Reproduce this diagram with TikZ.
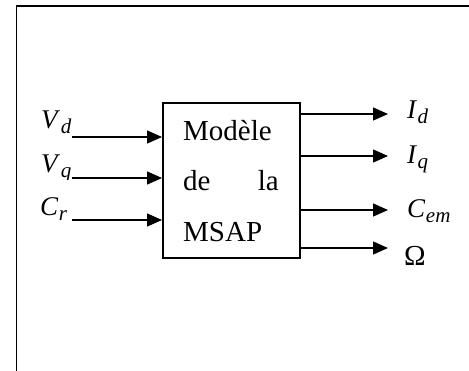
\documentclass[tikz,border=0pt]{standalone}
\usepackage{fontspec}
\setmainfont{Liberation Serif}
\usetikzlibrary{arrows.meta}
% italic symbol with a lowered italic index
\newcommand{\symidx}[2]{\textit{#1}\kern0.5pt\raisebox{-5pt}{\fontsize{21}{23}\selectfont\textit{#2}}}
\begin{document}
\begin{tikzpicture}[x=1pt,y=-1pt,
  frameline/.style={line width=1.5pt},
  blockbox/.style={draw,line width=1.6pt,minimum width=137pt,minimum height=155pt,anchor=north west,inner sep=0pt},
  sig/.style={line width=1.4pt,-{Triangle[length=15pt,width=13pt]}},
  blocktext/.style={inner sep=0pt,font=\fontsize{29}{34}\selectfont},
  lbl/.style={inner sep=0pt,anchor=base west,font=\fontsize{27}{31}\selectfont}]
  \useasboundingbox (0,0) rectangle (469,370);
  % open outer frame
  \draw[frameline] (16.5,372) -- (16.5,6) -- (471,6);
  % the block
  \node[blockbox] (box) at (162,102) {};
  \node[blocktext,anchor=base west] (t1) at (183,140) {Modèle};
  \node[blocktext,anchor=base west] (t2) at (183,190) {de};
  \node[blocktext,anchor=base east] (t3) at (279,190) {la};
  \node[blocktext,anchor=base west] (t4) at (183,241) {MSAP};
  % inputs
  \coordinate (vdin) at (72,137);
  \coordinate (vqin) at (72,178);
  \coordinate (crin) at (72,220);
  \draw[sig] (vdin) -- (vdin -| box.west);
  \draw[sig] (vqin) -- (vqin -| box.west);
  \draw[sig] (crin) -- (crin -| box.west);
  \begin{scope}
    \clip (0,0) rectangle (160,135.5);
    \node[lbl] (vd) at (41,128) {\symidx{V}{d}};
  \end{scope}
  \begin{scope}
    \clip (0,140) rectangle (160,179.5);
    \node[lbl] (vq) at (41,172) {\symidx{V}{q}};
  \end{scope}
  \node[lbl] (cr) at (40,215) {\symidx{C}{r}};
  % outputs
  \coordinate (idout) at (388,114);
  \coordinate (iqout) at (388,156);
  \coordinate (cemout) at (388,210);
  \coordinate (wout) at (388,248);
  \draw[sig] (idout -| box.east) -- (idout);
  \draw[sig] (iqout -| box.east) -- (iqout);
  \draw[sig] (cemout -| box.east) -- (cemout);
  \draw[sig] (wout -| box.east) -- (wout);
  \node[lbl] (id) at (407,118) {\symidx{I}{d}};
  \node[lbl] (iq) at (407,163) {\symidx{I}{q}};
  \node[lbl] (cem) at (407,217) {\symidx{C}{em}};
  \node[lbl,font=\fontsize{29}{33}\selectfont] (om) at (404,265) {Ω};
\end{tikzpicture}
\end{document}
